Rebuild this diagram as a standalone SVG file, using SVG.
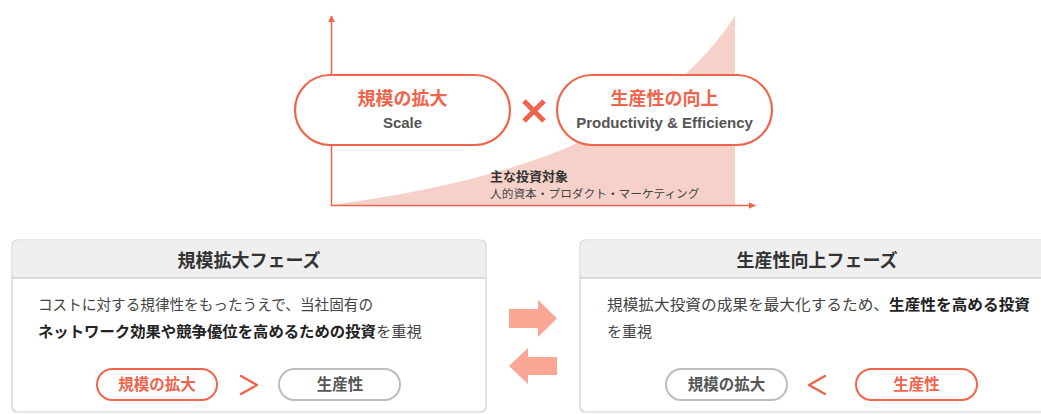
<svg xmlns="http://www.w3.org/2000/svg" width="1041" height="414" viewBox="0 0 1041 414">
<defs>
<style>
text{font-family:"Liberation Sans","Noto Sans CJK JP",sans-serif;}
.axis{stroke:#f0644c;stroke-width:1.5;fill:none;}
.pillTop{fill:#fff;stroke:#f0644c;stroke-width:2.2;}
.jpTop{font-size:18px;font-weight:bold;fill:#f0644c;text-anchor:middle;}
.enTop{font-size:15px;font-weight:bold;fill:#555;text-anchor:middle;}
.panel{fill:#fff;stroke:#cfcfcf;stroke-width:1.2;}
.head{fill:#efefef;}
.headline{stroke:#bdbdbd;stroke-width:1.2;}
.title{font-size:18px;font-weight:bold;fill:#333;text-anchor:middle;}
.body{font-size:15px;fill:#444;}
.b{font-weight:bold;fill:#222;}
.pOn{fill:#fff;stroke:#f0644c;stroke-width:2;}
.pOff{fill:#fff;stroke:#bdbdbd;stroke-width:2;}
.tOn{font-size:15.5px;font-weight:bold;fill:#f0644c;text-anchor:middle;}
.tOff{font-size:15.5px;font-weight:bold;fill:#555;text-anchor:middle;}
.cmp{fill:none;stroke:#f0644c;stroke-width:2.4;stroke-linecap:round;stroke-linejoin:round;}
.flow{fill:#f9a695;}
</style>
<marker id="ah" viewBox="0 0 10 10" refX="9" refY="5" markerWidth="7" markerHeight="7" orient="auto" markerUnits="userSpaceOnUse">
<path d="M0,0 L10,5 L0,10 z" fill="#f0644c"/>
</marker>
</defs>

<g id="chart">
<path d="M331,205 C520,180 660,130 735,16 L735,205 Z" fill="#f6d1ca"/>
<line class="axis" x1="331.5" y1="206" x2="331.5" y2="16" marker-end="url(#ah)"/>
<line class="axis" x1="331" y1="205.5" x2="755" y2="205.5" marker-end="url(#ah)"/>
<text x="490" y="181" font-size="13" font-weight="bold" fill="#333">主な投資対象</text>
<text x="490" y="198" font-size="11.7" fill="#444">人的資本・プロダクト・マーケティング</text>
</g>

<g id="node-scale">
<rect class="pillTop" x="295" y="75" width="215" height="70" rx="35"/>
<text class="jpTop" x="402.5" y="105">規模の拡大</text>
<text class="enTop" x="402.5" y="128">Scale</text>
</g>

<g id="times">
<path d="M524,101 L544,121 M544,101 L524,121" stroke="#f0644c" stroke-width="5" stroke-linecap="butt"/>
</g>

<g id="node-productivity">
<rect class="pillTop" x="557" y="75" width="215" height="70" rx="35"/>
<text class="jpTop" x="664.5" y="105">生産性の向上</text>
<text class="enTop" x="664.5" y="128">Productivity &amp; Efficiency</text>
</g>

<g id="panel-scale">
<path class="panel" d="M12,246 Q12,240 18,240 L480,240 Q486,240 486,246 L486,406 Q486,412 480,412 L18,412 Q12,412 12,406 Z"/>
<path class="head" d="M12.6,246 Q12.6,240.6 18,240.6 L480,240.6 Q485.4,240.6 485.4,246 L485.4,278 L12.6,278 Z"/>
<line class="headline" x1="12" y1="278" x2="486" y2="278"/>
<text class="title" x="249" y="267">規模拡大フェーズ</text>
<text class="body" x="38" y="310" textLength="335" lengthAdjust="spacingAndGlyphs">コストに対する規律性をもったうえで、当社固有の</text>
<text class="body" x="38" y="337" textLength="384" lengthAdjust="spacingAndGlyphs"><tspan class="b">ネットワーク効果や競争優位を高めるための投資</tspan>を重視</text>
<rect class="pOn" x="97" y="369" width="120" height="31" rx="15.5"/>
<text class="tOn" x="157" y="390">規模の拡大</text>
<polyline class="cmp" points="241,376 257,385 241,394"/>
<rect class="pOff" x="279" y="369" width="121" height="31" rx="15.5"/>
<text class="tOff" x="340" y="390">生産性</text>
</g>

<g id="connectors">
<path class="flow" d="M509,309 L538,309 L538,300 L557,318.5 L538,337 L538,328 L509,328 Z"/>
<path class="flow" d="M557,357 L528,357 L528,348 L509,366 L528,384 L528,375 L557,375 Z"/>
</g>

<g id="panel-productivity">
<path class="panel" d="M580,246 Q580,240 586,240 L1048,240 Q1054,240 1054,246 L1054,406 Q1054,412 1048,412 L586,412 Q580,412 580,406 Z"/>
<path class="head" d="M580.6,246 Q580.6,240.6 586,240.6 L1048,240.6 Q1053.4,240.6 1053.4,246 L1053.4,278 L580.6,278 Z"/>
<line class="headline" x1="580" y1="278" x2="1054" y2="278"/>
<text class="title" x="817" y="267">生産性向上フェーズ</text>
<text class="body" x="607" y="310" textLength="423" lengthAdjust="spacingAndGlyphs">規模拡大投資の成果を最大化するため、<tspan class="b">生産性を高める投資</tspan></text>
<text class="body" x="607" y="337">を重視</text>
<rect class="pOff" x="666" y="369" width="121" height="31" rx="15.5"/>
<text class="tOff" x="726.5" y="390">規模の拡大</text>
<polyline class="cmp" points="825,376 809,385 825,394"/>
<rect class="pOn" x="856" y="369" width="121" height="31" rx="15.5"/>
<text class="tOn" x="916.5" y="390">生産性</text>
</g>
</svg>
